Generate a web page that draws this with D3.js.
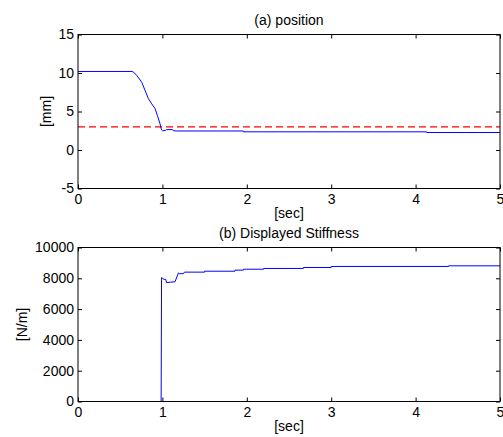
<!DOCTYPE html>
<html>
<head>
<meta charset="utf-8">
<script src="https://cdn.jsdelivr.net/npm/d3@7"></script>
<style>
	body	{ margin:0; background:#fff; }
	text	{ font-family:"Liberation Sans", Arial, sans-serif; font-size:14px; fill:#000; }
</style>
</head>
<body>
<svg id="fig" width="503" height="437"></svg>
<script>
// time axis ticks (both plots)
var xTicks	= [0, 1, 2, 3, 4, 5];

// (a) position
var posTicks	= [-5, 0, 5, 10, 15];
var posT	= [0, 0.64, 0.66, 0.695, 0.755, 0.794, 0.833, 0.873, 0.912, 0.94, 0.972, 0.99, 1.0, 1.04, 1.05, 1.12, 1.13, 1.17, 1.96, 1.96, 4.13, 4.13, 5];
var posV	= [10.2, 10.2, 10.1, 9.7, 8.8, 7.75, 6.7, 6.0, 5.4, 4.5, 3.4, 2.6, 2.5, 2.55, 2.65, 2.65, 2.5, 2.47, 2.47, 2.36, 2.36, 2.27, 2.27];
var posRef	= 3;

// (b) displayed stiffness
var stiffTicks	= [0, 2000, 4000, 6000, 8000, 10000];
var stiffT	= [0, 0.985, 0.99, 1.0, 1.02, 1.04, 1.05, 1.1, 1.15, 1.19, 1.2, 1.25, 1.26, 1.5, 1.5, 1.86, 1.86, 1.96, 1.96, 2.2, 2.2, 2.67, 2.67, 3.0, 3.0, 4.39, 4.39, 5];
var stiffV	= [0, 0, 8050, 8000, 7930, 7930, 7720, 7750, 7780, 8350, 8300, 8300, 8400, 8400, 8460, 8460, 8530, 8530, 8590, 8590, 8640, 8640, 8700, 8700, 8770, 8770, 8810, 8810];

var svg = d3.select('#fig');
var left = 78, right = 500, tick = 4;
var fmt = function(d){ return String(d); };	// plain hyphen minus, like the original

function panel(o) {
	var x = d3.scaleLinear().domain([0, 5]).range([left, right]);
	var y = d3.scaleLinear().domain(o.yDomain).range([o.bottom, o.top]);
	var g = svg.append('g');

	// inward ticks on all four sides
	g.append('g').attr('transform', 'translate(0,' + o.bottom + ')')
		.call(d3.axisBottom(x).tickValues(xTicks).tickSize(-tick).tickPadding(6).tickFormat(fmt))
		.call(function(a){ a.select('.domain').remove(); a.selectAll('text').style('font-size', '14px').attr('font-family', null); });
	g.append('g').attr('transform', 'translate(0,' + o.top + ')')
		.call(d3.axisTop(x).tickValues(xTicks).tickSize(-tick).tickFormat(''))
		.call(function(a){ a.select('.domain').remove(); });
	g.append('g').attr('transform', 'translate(' + left + ',0)')
		.call(d3.axisLeft(y).tickValues(o.yTicks).tickSize(-tick).tickPadding(4).tickFormat(fmt))
		.call(function(a){ a.select('.domain').remove(); a.selectAll('text').style('font-size', '14px').attr('font-family', null); });
	g.append('g').attr('transform', 'translate(' + right + ',0)')
		.call(d3.axisRight(y).tickValues(o.yTicks).tickSize(-tick).tickFormat(''))
		.call(function(a){ a.select('.domain').remove(); });

	// clip and curves
	var id = 'clip' + o.top;
	svg.append('clipPath').attr('id', id).append('rect')
		.attr('x', left).attr('y', o.top).attr('width', right - left).attr('height', o.bottom - o.top);
	var line = d3.line().x(function(d){ return x(d[0]); }).y(function(d){ return y(d[1]); });
	var plot = g.append('g').attr('clip-path', 'url(#' + id + ')');
	if (o.ref !== undefined)
		plot.append('path').datum([[0, o.ref], [5, o.ref]]).attr('d', line)
			.attr('fill', 'none').attr('stroke', '#ff0000').attr('stroke-width', 1.2).attr('stroke-dasharray', '7,4');
	plot.append('path').datum(d3.zip(o.t, o.v)).attr('d', line)
		.attr('fill', 'none').attr('stroke', '#0000ff').attr('stroke-width', 1);

	// box
	g.append('rect').attr('x', left).attr('y', o.top).attr('width', right - left).attr('height', o.bottom - o.top)
		.attr('fill', 'none').attr('stroke', '#000').attr('stroke-width', 1);

	// labels
	g.append('text').attr('x', (left + right) / 2).attr('y', o.top - 10).attr('text-anchor', 'middle').text(o.title);
	g.append('text').attr('x', (left + right) / 2).attr('y', o.bottom + 29).attr('text-anchor', 'middle').text('[sec]');
	g.append('text').attr('transform', 'translate(' + o.yLabelX + ',' + (o.top + o.bottom) / 2 + ') rotate(-90)')
		.attr('text-anchor', 'middle').attr('dy', '0.35em').text(o.yLabel);
}

panel({ top: 34.5, bottom: 188.5, yDomain: [-5, 15], yTicks: posTicks, t: posT, v: posV, ref: posRef,
	title: '(a) position', yLabel: '[mm]', yLabelX: 46 });
panel({ top: 247.5, bottom: 401.5, yDomain: [0, 10000], yTicks: stiffTicks, t: stiffT, v: stiffV,
	title: '(b) Displayed Stiffness', yLabel: '[N/m]', yLabelX: 22.5 });
</script>
</body>
</html>
